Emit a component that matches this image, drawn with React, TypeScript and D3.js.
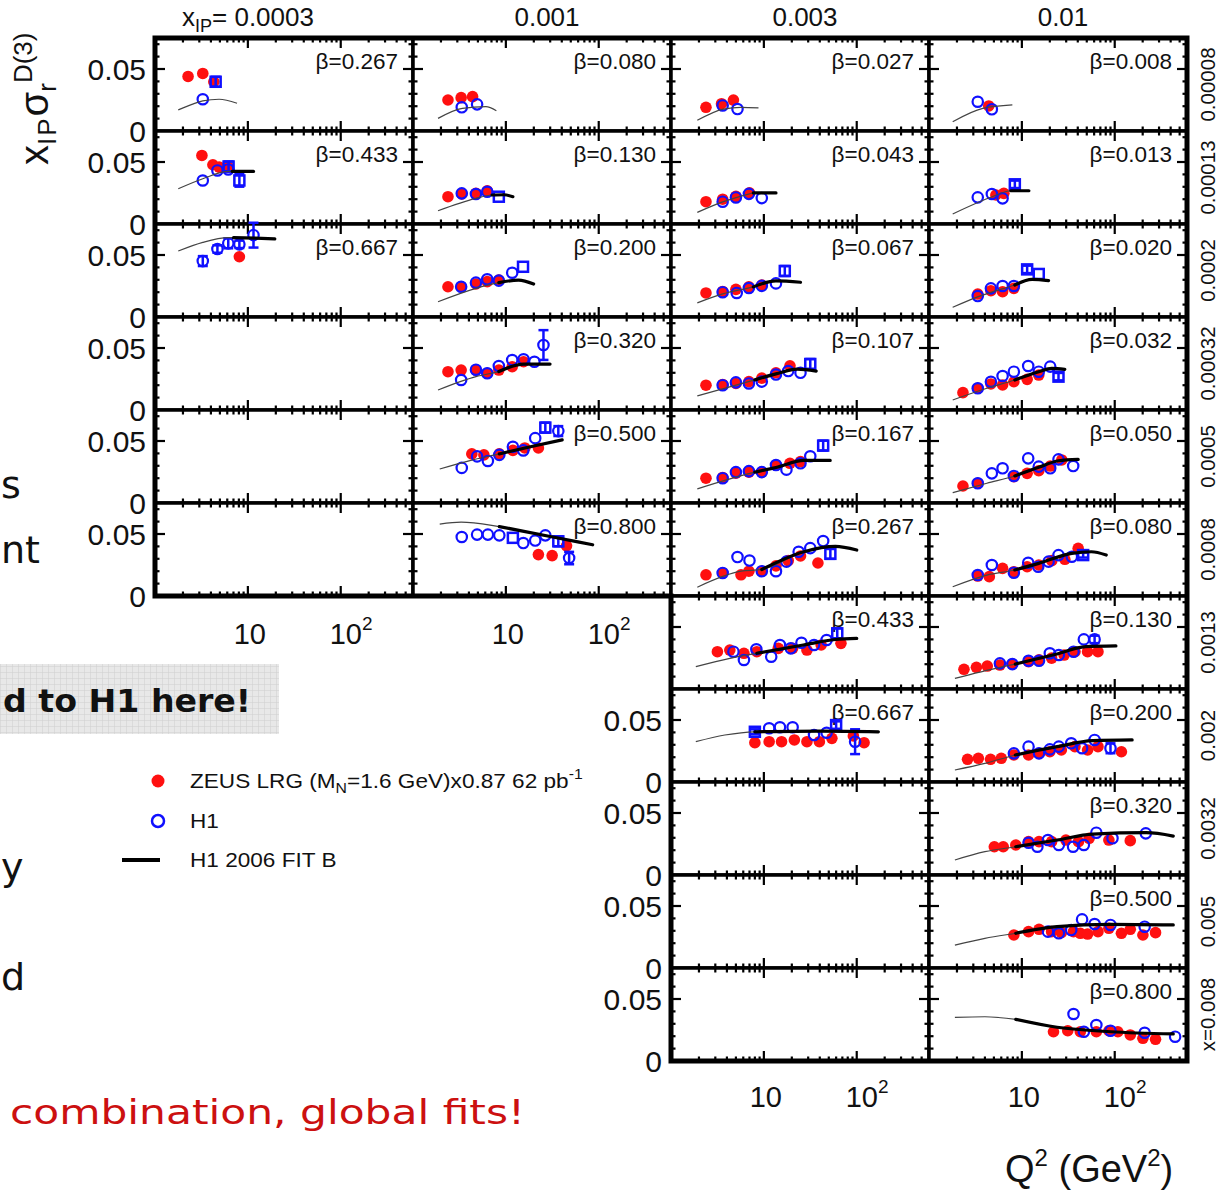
import React from 'react';
import * as d3 from 'd3';

type P = [number, number, number]; // Q2, value, error
type F = [number, number, number]; // Q2, value, thick flag

const ipLabels = ['0.0003', '0.001', '0.003', '0.01'];
const xLabels = ['0.00008', '0.00013', '0.0002', '0.00032', '0.0005', '0.0008', '0.0013', '0.002', '0.0032', '0.005', 'x=0.008'];
const betas1 = ['0.267', '0.433', '0.667'];
const betas2 = ['0.080', '0.130', '0.200', '0.320', '0.500', '0.800'];
const betas3 = ['0.027', '0.043', '0.067', '0.107', '0.167', '0.267', '0.433', '0.667'];
const betas4 = ['0.008', '0.013', '0.020', '0.032', '0.050', '0.080', '0.130', '0.200', '0.320', '0.500', '0.800'];
const rowsPerColumn = [6, 6, 11, 11];
const yLabelRowsCol3 = [7, 8, 9, 10];
const xMinorTicks = [2, 3, 4, 5, 6, 7, 8, 9, 20, 30, 40, 50, 60, 70, 80, 90, 200, 300, 400, 500, 600];
const xMajorTicks = [10, 100];
const yMinorTicks = [0.01, 0.02, 0.03, 0.04, 0.06, 0.07];
const yMajorTicks = [0.05];
const xTickLabels = [10, 100];

// ---------- column 1 : x_IP = 0.0003 ----------
const z_c1r1: P[] = [[2.27, 0.044, 0.004], [3.27, 0.0464, 0.004], [4.3, 0.0397, 0.003]];
const h_c1r1: P[] = [[3.27, 0.0256, 0]];
const s_c1r1: P[] = [[4.5, 0.0397, 0.004]];
const f_c1r1: F[] = [[1.78, 0.017, 0], [2.5, 0.0215, 0], [3.27, 0.0243, 0], [4.9, 0.0256, 0], [7.65, 0.0224, 0]];

const z_c1r2: P[] = [[3.2, 0.0553, 0.004], [4.2, 0.0478, 0.003], [4.9, 0.0459, 0], [6.15, 0.0459, 0.003]];
const h_c1r2: P[] = [[3.27, 0.0351, 0], [4.7, 0.0432, 0], [6.15, 0.044, 0]];
const s_c1r2: P[] = [[6.2, 0.0464, 0.004], [8.1, 0.0351, 0.005]];
const f_c1r2: F[] = [[1.78, 0.0284, 0], [3.27, 0.0365, 0], [6.2, 0.0424, 0], [6.8, 0.0424, 1], [11.5, 0.0424, 1]];

const z_c1r3: P[] = [[8.1, 0.0486, 0.003]];
const h_c1r3: P[] = [[3.27, 0.0451, 0.004], [4.7, 0.0548, 0.003], [6.15, 0.0594, 0.004], [8.1, 0.0586, 0.003], [11.5, 0.066, 0.01]];
const s_c1r3: P[] = [];
const f_c1r3: F[] = [[1.78, 0.0532, 0], [3.27, 0.0602, 0], [6.15, 0.064, 0], [7, 0.064, 1], [12, 0.0636, 1], [19.5, 0.063, 1]];

// ---------- column 2 : x_IP = 0.001 ----------
const z_c2r1: P[] = [[2.38, 0.025, 0], [3.3, 0.0269, 0], [4.38, 0.0277, 0]];
const h_c2r1: P[] = [[3.35, 0.0191, 0], [4.9, 0.0215, 0]];
const s_c2r1: P[] = [];
const f_c2r1: F[] = [[1.86, 0.0102, 0], [3.4, 0.0183, 0], [6.1, 0.0196, 0], [7.9, 0.0164, 0]];

const z_c2r2: P[] = [[2.38, 0.022, 0], [3.35, 0.0242, 0], [4.76, 0.0247, 0], [6.3, 0.0268, 0]];
const h_c2r2: P[] = [[3.35, 0.0247, 0], [4.76, 0.0242, 0], [6.3, 0.026, 0]];
const s_c2r2: P[] = [[8.4, 0.022, 0]];
const f_c2r2: F[] = [[1.86, 0.0107, 0], [4.76, 0.0207, 0], [7.1, 0.0234, 1], [9.5, 0.0236, 1], [11.9, 0.022, 1]];

const z_c2r3: P[] = [[2.38, 0.0244, 0], [3.3, 0.0244, 0], [4.76, 0.0266, 0], [6.3, 0.0285, 0], [8.4, 0.0298, 0]];
const h_c2r3: P[] = [[3.3, 0.0244, 0], [4.76, 0.0277, 0], [6.3, 0.0304, 0], [8.4, 0.0293, 0], [11.7, 0.0357, 0]];
const s_c2r3: P[] = [[15.3, 0.0405, 0]];
const f_c2r3: F[] = [[1.86, 0.0123, 0], [4.76, 0.0231, 0], [8.4, 0.0277, 1], [13.7, 0.0298, 1], [19.9, 0.0266, 1]];

const z_c2r4: P[] = [[2.38, 0.0309, 0], [3.3, 0.0322, 0], [4.76, 0.0322, 0], [6.3, 0.0296, 0], [8.4, 0.0322, 0], [11.7, 0.0349, 0], [15.5, 0.0389, 0]];
const h_c2r4: P[] = [[3.3, 0.0242, 0], [4.76, 0.0325, 0], [6.3, 0.0296, 0], [8.4, 0.0355, 0], [11.7, 0.0403, 0], [15.5, 0.0409, 0], [20.3, 0.0389, 0], [25.4, 0.0524, 0.012]];
const s_c2r4: P[] = [];
const f_c2r4: F[] = [[1.86, 0.0161, 0], [4.76, 0.0269, 0], [8.4, 0.031, 1], [15.5, 0.037, 1], [29.9, 0.037, 1]];

const z_c2r5: P[] = [[4.3, 0.0396, 0], [5.8, 0.0388, 0], [8.5, 0.0396, 0], [11.9, 0.0424, 0], [16, 0.0444, 0], [22.4, 0.0444, 0]];
const h_c2r5: P[] = [[3.35, 0.0283, 0], [4.9, 0.0376, 0], [6.4, 0.0339, 0], [8.5, 0.0388, 0], [11.9, 0.0453, 0], [15.4, 0.0424, 0], [20.7, 0.0523, 0], [36.7, 0.058, 0.004]];
const s_c2r5: P[] = [[26.6, 0.0608, 0.004]];
const f_c2r5: F[] = [[1.94, 0.0274, 0], [4, 0.034, 0], [8.5, 0.0396, 1], [20, 0.046, 1], [40.4, 0.0509, 1]];

const z_c2r6: P[] = [[22.4, 0.0334, 0], [31.5, 0.0326, 0], [45, 0.0405, 0]];
const h_c2r6: P[] = [[3.35, 0.0476, 0], [4.9, 0.0495, 0], [6.4, 0.0495, 0], [8.5, 0.0489, 0], [15.4, 0.0427, 0], [20.7, 0.0447, 0], [26.6, 0.0489, 0], [48, 0.0306, 0.005]];
const s_c2r6: P[] = [[11.9, 0.0469, 0], [36.7, 0.0441, 0.004]];
const f_c2r6: F[] = [[1.94, 0.058, 0], [3.3, 0.0596, 0], [8.5, 0.056, 1], [30, 0.048, 1], [86, 0.0413, 1]];

// ---------- column 3 : x_IP = 0.003 ----------
const z_c3r1: P[] = [[2.38, 0.0191, 0], [3.5, 0.022, 0], [4.7, 0.0249, 0]];
const h_c3r1: P[] = [[3.6, 0.0206, 0], [5.2, 0.0177, 0]];
const s_c3r1: P[] = [];
const f_c3r1: F[] = [[1.92, 0.0086, 0], [3.67, 0.0177, 0], [5.67, 0.0191, 0], [8.75, 0.0186, 0]];

const z_c3r2: P[] = [[2.38, 0.018, 0], [3.6, 0.02, 0], [5.0, 0.0223, 0], [7.0, 0.0251, 0]];
const h_c3r2: P[] = [[3.6, 0.018, 0], [5.0, 0.0214, 0], [6.9, 0.0243, 0], [9.5, 0.0209, 0]];
const s_c3r2: P[] = [];
const f_c3r2: F[] = [[1.92, 0.0094, 0], [3.67, 0.018, 0], [7.0, 0.0243, 0], [7.7, 0.0251, 1], [13.5, 0.0251, 1]];

const z_c3r3: P[] = [[2.38, 0.0194, 0], [3.6, 0.0206, 0], [5.0, 0.0223, 0], [6.9, 0.0243, 0], [9.5, 0.0257, 0]];
const h_c3r3: P[] = [[3.6, 0.02, 0], [5.1, 0.0194, 0], [6.9, 0.0234, 0], [9.5, 0.0251, 0], [13.5, 0.0271, 0]];
const s_c3r3: P[] = [[16.8, 0.0371, 0.004]];
const f_c3r3: F[] = [[1.92, 0.0114, 0], [3.6, 0.0186, 0], [7.7, 0.0243, 1], [13.5, 0.0291, 1], [24.8, 0.028, 1]];

const z_c3r4: P[] = [[2.38, 0.02, 0], [3.6, 0.0206, 0], [5.0, 0.0214, 0], [6.9, 0.0229, 0], [9.5, 0.0257, 0], [13.5, 0.03, 0], [19.1, 0.0357, 0]];
const h_c3r4: P[] = [[3.6, 0.02, 0], [5.0, 0.0223, 0], [6.9, 0.0214, 0], [9.5, 0.0229, 0], [13.5, 0.0286, 0], [18.3, 0.0314, 0], [24.8, 0.03, 0]];
const s_c3r4: P[] = [[31.6, 0.0371, 0.004]];
const f_c3r4: F[] = [[1.92, 0.0114, 0], [5.0, 0.02, 0], [8.0, 0.0243, 1], [13.5, 0.0291, 1], [22.7, 0.0329, 1], [36.6, 0.0314, 1]];

const z_c3r5: P[] = [[2.38, 0.02, 0], [3.6, 0.0206, 0], [5.0, 0.024, 0], [6.9, 0.0249, 0], [9.5, 0.0249, 0], [13.5, 0.0306, 0], [19.1, 0.032, 0], [24.8, 0.0334, 0]];
const h_c3r5: P[] = [[3.6, 0.02, 0], [5.0, 0.0249, 0], [6.9, 0.0257, 0], [9.5, 0.0249, 0], [13.5, 0.0306, 0], [17.5, 0.0269, 0], [24.8, 0.032, 0], [31.6, 0.0377, 0]];
const s_c3r5: P[] = [[43.5, 0.0463, 0.004]];
const f_c3r5: F[] = [[1.92, 0.0114, 0], [8.0, 0.0249, 1], [13.5, 0.0286, 1], [27, 0.0343, 1], [51.8, 0.0343, 1]];

const z_c3r6: P[] = [[2.38, 0.0171, 0], [3.6, 0.0186, 0], [5.67, 0.0171, 0], [6.9, 0.02, 0], [9.5, 0.02, 0], [13.5, 0.0243, 0], [18.3, 0.0286, 0], [24.8, 0.0323, 0], [38.2, 0.0266, 0]];
const h_c3r6: P[] = [[3.6, 0.0186, 0], [5.2, 0.0314, 0], [7.0, 0.0286, 0], [9.5, 0.02, 0], [13.5, 0.02, 0], [17.5, 0.0277, 0], [23.7, 0.0357, 0], [31.6, 0.0386, 0], [43.5, 0.0443, 0]];
const s_c3r6: P[] = [[52, 0.034, 0.004]];
const f_c3r6: F[] = [[1.92, 0.0071, 0], [5.67, 0.02, 0], [9.5, 0.0214, 1], [27, 0.0357, 1], [58.9, 0.04, 1], [100, 0.0371, 1]];

const z_c3r7: P[] = [[3.16, 0.0301, 0], [4.3, 0.0314, 0], [6.1, 0.0288, 0], [8.4, 0.0301, 0], [14.3, 0.0328, 0], [20.4, 0.0328, 0], [29.1, 0.0314, 0], [41.4, 0.0355, 0], [67.6, 0.0368, 0]];
const h_c3r7: P[] = [[4.7, 0.0301, 0], [6.1, 0.0234, 0], [8.3, 0.032, 0], [12, 0.026, 0], [14.9, 0.0355, 0], [19.5, 0.0328, 0], [25.4, 0.0373, 0], [34.7, 0.0355, 0], [47.4, 0.0395, 0]];
const s_c3r7: P[] = [[61.7, 0.0449, 0.004]];
const f_c3r7: F[] = [[1.85, 0.018, 0], [4.3, 0.0247, 0], [8.4, 0.0288, 1], [26.6, 0.0355, 1], [59, 0.0399, 1], [100, 0.0408, 1]];

const z_c3r8: P[] = [[8.0, 0.0317, 0], [11.4, 0.0325, 0], [15.5, 0.0325, 0], [21.3, 0.0339, 0], [29.1, 0.0325, 0], [39.6, 0.0325, 0], [54, 0.0352, 0], [92, 0.0371, 0], [120, 0.0317, 0]];
const h_c3r8: P[] = [[11.4, 0.0433, 0], [14.9, 0.0441, 0], [20.4, 0.0441, 0], [34.7, 0.0379, 0], [47.4, 0.0397, 0], [96, 0.0325, 0.01]];
const s_c3r8: P[] = [[8.0, 0.0405, 0.002], [60, 0.0459, 0.003]];
const f_c3r8: F[] = [[1.85, 0.0325, 0], [3.8, 0.0379, 0], [8.0, 0.0405, 1], [40, 0.041, 1], [171, 0.0405, 1]];

// ---------- column 4 : x_IP = 0.01 ----------
const z_c4r1: P[] = [[4.4, 0.0202, 0]];
const h_c4r1: P[] = [[3.35, 0.0236, 0], [4.75, 0.0175, 0]];
const s_c4r1: P[] = [];
const f_c4r1: F[] = [[1.8, 0.0075, 0], [3.8, 0.0183, 0], [7.9, 0.021, 0]];

const z_c4r2: P[] = [[5.25, 0.0234, 0], [6.4, 0.0247, 0]];
const h_c4r2: P[] = [[3.35, 0.0215, 0], [4.75, 0.0242, 0], [6.2, 0.0207, 0]];
const s_c4r2: P[] = [[8.4, 0.032, 0.003]];
const f_c4r2: F[] = [[1.8, 0.0081, 0], [4.8, 0.022, 0], [7.6, 0.0268, 1], [11.9, 0.0268, 1]];

const z_c4r3: P[] = [[3.35, 0.0185, 0], [4.64, 0.0212, 0], [6.2, 0.0204, 0], [8.2, 0.0231, 0]];
const h_c4r3: P[] = [[3.35, 0.0169, 0], [4.64, 0.0231, 0], [6.2, 0.025, 0], [8.2, 0.025, 0]];
const s_c4r3: P[] = [[11.4, 0.0384, 0.003], [15.2, 0.0347, 0]];
const f_c4r3: F[] = [[1.8, 0.0078, 0], [3.4, 0.0164, 0], [8.4, 0.0258, 1], [12.9, 0.0304, 1], [19.4, 0.0293, 1]];

const z_c4r4: P[] = [[2.32, 0.014, 0], [3.35, 0.0175, 0], [4.64, 0.021, 0], [6.2, 0.0202, 0], [8.2, 0.0228, 0], [11.4, 0.0247, 0], [15.2, 0.0282, 0]];
const h_c4r4: P[] = [[3.35, 0.0175, 0], [4.64, 0.0228, 0], [6.2, 0.0274, 0], [8.2, 0.0309, 0], [11.7, 0.0355, 0], [15.2, 0.0309, 0], [20.2, 0.035, 0]];
const s_c4r4: P[] = [[24.8, 0.0269, 0.003]];
const f_c4r4: F[] = [[1.8, 0.0081, 0], [4.2, 0.0175, 0], [8.4, 0.0242, 1], [15.2, 0.0309, 1], [21, 0.0336, 1], [29, 0.0328, 1]];

const z_c4r5: P[] = [[2.32, 0.0137, 0], [3.35, 0.0159, 0], [8.2, 0.0212, 0], [11.4, 0.0239, 0], [15.2, 0.026, 0], [20.2, 0.0298, 0], [26.9, 0.0347, 0]];
const h_c4r5: P[] = [[3.35, 0.0159, 0], [4.75, 0.0239, 0], [6.2, 0.028, 0], [8.2, 0.0218, 0], [11.7, 0.036, 0], [15.2, 0.0293, 0], [20.2, 0.028, 0], [24.8, 0.0352, 0], [35.7, 0.0298, 0]];
const s_c4r5: P[] = [];
const f_c4r5: F[] = [[1.8, 0.0083, 0], [4.2, 0.0159, 0], [8.4, 0.0218, 1], [15.2, 0.0288, 1], [24.8, 0.0341, 1], [40.4, 0.0352, 1]];

const z_c4r6: P[] = [[3.35, 0.0161, 0], [4.46, 0.0156, 0], [6.2, 0.0223, 0], [8.2, 0.0196, 0], [11.4, 0.0236, 0], [15.2, 0.025, 0], [21, 0.0285, 0], [29, 0.0296, 0], [40.4, 0.0384, 0]];
const h_c4r6: P[] = [[3.35, 0.0169, 0], [4.75, 0.025, 0], [8.2, 0.0188, 0], [11.7, 0.0268, 0], [15, 0.0236, 0], [19.4, 0.0277, 0], [24.8, 0.033, 0], [34.5, 0.0317, 0]];
const s_c4r6: P[] = [[45.7, 0.033, 0.002]];
const f_c4r6: F[] = [[1.8, 0.0075, 0], [4.2, 0.0169, 0], [8.4, 0.021, 1], [15.2, 0.0263, 1], [34.5, 0.0344, 1], [56, 0.0357, 1], [81, 0.033, 1]];

const z_c4r7: P[] = [[2.38, 0.0159, 0], [3.24, 0.0175, 0], [4.24, 0.0185, 0], [5.8, 0.0193, 0], [7.9, 0.0201, 0], [11.8, 0.022, 0], [15.3, 0.0236, 0], [20.9, 0.0249, 0], [28.5, 0.0274, 0], [37.3, 0.0301, 0], [51, 0.0301, 0], [66, 0.0301, 0]];
const h_c4r7: P[] = [[5.8, 0.0207, 0], [7.9, 0.0201, 0], [11.8, 0.0228, 0], [15.3, 0.0228, 0], [20, 0.0288, 0], [25, 0.0274, 0], [36, 0.0301, 0], [46.5, 0.04, 0], [60.7, 0.04, 0.003]];
const s_c4r7: P[] = [];
const f_c4r7: F[] = [[1.9, 0.0086, 0], [5.8, 0.0175, 0], [8.5, 0.0201, 1], [23.9, 0.0282, 1], [48.5, 0.0341, 1], [103, 0.0347, 1]];

const z_c4r8: P[] = [[2.6, 0.0183, 0], [3.4, 0.0191, 0], [4.6, 0.0183, 0], [6.0, 0.0191, 0], [8.2, 0.0218, 0], [11.8, 0.0218, 0], [15.3, 0.0231, 0], [20, 0.0244, 0], [26.6, 0.0258, 0], [37.3, 0.0285, 0], [51, 0.0258, 0], [66, 0.0285, 0], [118, 0.0244, 0]];
const h_c4r8: P[] = [[8.2, 0.0231, 0], [11.8, 0.0285, 0], [15.3, 0.0231, 0], [20, 0.0263, 0], [25, 0.0285, 0], [34, 0.0312, 0], [44.5, 0.0272, 0], [60.7, 0.0339, 0], [90, 0.0272, 0.004]];
const s_c4r8: P[] = [];
const f_c4r8: F[] = [[1.9, 0.0097, 0], [4.0, 0.015, 0], [8.5, 0.0218, 1], [23.9, 0.0285, 1], [58, 0.0333, 1], [154, 0.0339, 1]];

const z_c4r9: P[] = [[5.05, 0.0228, 0], [6.3, 0.0228, 0], [8.6, 0.0242, 0], [11.8, 0.0269, 0], [15.3, 0.0269, 0], [20.9, 0.0269, 0], [29.8, 0.0282, 0], [40.7, 0.0269, 0], [53, 0.0296, 0], [86.5, 0.0282, 0], [147, 0.0277, 0]];
const h_c4r9: P[] = [[11.8, 0.026, 0], [14.7, 0.0228, 0], [19.1, 0.0282, 0], [25, 0.0242, 0], [35.6, 0.0228, 0], [46.5, 0.0242, 0], [63.4, 0.0341, 0], [94.6, 0.0296, 0], [216, 0.0336, 0]];
const s_c4r9: P[] = [];
const f_c4r9: F[] = [[1.9, 0.0121, 0], [4.0, 0.0188, 0], [8.6, 0.0228, 1], [23.9, 0.0282, 1], [58, 0.033, 1], [219, 0.0341, 1], [427, 0.0314, 1]];

const z_c4r10: P[] = [[8.2, 0.0266, 0], [11.8, 0.0293, 0], [15.3, 0.0312, 0], [20.9, 0.0293, 0], [26.6, 0.0285, 0], [36, 0.0293, 0], [42.6, 0.028, 0], [51, 0.0274, 0], [66, 0.0293, 0], [86.5, 0.032, 0], [118, 0.028, 0], [147, 0.0312, 0], [201, 0.0266, 0], [275, 0.0285, 0]];
const h_c4r10: P[] = [[19.1, 0.0293, 0], [25, 0.028, 0], [34, 0.0306, 0], [44.5, 0.0392, 0], [60.7, 0.0355, 0], [90, 0.0347, 0], [210, 0.0333, 0]];
const s_c4r10: P[] = [];
const f_c4r10: F[] = [[1.9, 0.0185, 0], [4.0, 0.0239, 0], [8.6, 0.028, 1], [23.9, 0.0333, 1], [90, 0.0352, 1], [427, 0.0347, 1]];

const z_c4r11: P[] = [[21.9, 0.0236, 0], [31.2, 0.0244, 0], [42.6, 0.0236, 0], [63.4, 0.0236, 0], [86.5, 0.0244, 0], [108, 0.0236, 0], [147, 0.021, 0], [201, 0.0183, 0], [275, 0.0175, 0]];
const h_c4r11: P[] = [[36, 0.0379, 0], [46.5, 0.0236, 0], [63.4, 0.029, 0], [90, 0.0244, 0], [210, 0.0228, 0], [447, 0.0196, 0]];
const s_c4r11: P[] = [];
const f_c4r11: F[] = [[1.9, 0.0352, 0], [4.0, 0.0357, 0], [8.6, 0.0336, 1], [23.9, 0.0272, 1], [90, 0.0236, 1], [427, 0.0218, 1]];

// table of panels (column, row) -> series
type PanelSeries = { beta: string; zeus: P[]; h1: P[]; h1sq: P[]; fit: F[] } | null;
const col1: PanelSeries[] = [
  { beta: betas1[0], zeus: z_c1r1, h1: h_c1r1, h1sq: s_c1r1, fit: f_c1r1 },
  { beta: betas1[1], zeus: z_c1r2, h1: h_c1r2, h1sq: s_c1r2, fit: f_c1r2 },
  { beta: betas1[2], zeus: z_c1r3, h1: h_c1r3, h1sq: s_c1r3, fit: f_c1r3 },
  null, null, null,
];
const col2: PanelSeries[] = [
  { beta: betas2[0], zeus: z_c2r1, h1: h_c2r1, h1sq: s_c2r1, fit: f_c2r1 },
  { beta: betas2[1], zeus: z_c2r2, h1: h_c2r2, h1sq: s_c2r2, fit: f_c2r2 },
  { beta: betas2[2], zeus: z_c2r3, h1: h_c2r3, h1sq: s_c2r3, fit: f_c2r3 },
  { beta: betas2[3], zeus: z_c2r4, h1: h_c2r4, h1sq: s_c2r4, fit: f_c2r4 },
  { beta: betas2[4], zeus: z_c2r5, h1: h_c2r5, h1sq: s_c2r5, fit: f_c2r5 },
  { beta: betas2[5], zeus: z_c2r6, h1: h_c2r6, h1sq: s_c2r6, fit: f_c2r6 },
];
const col3: PanelSeries[] = [
  { beta: betas3[0], zeus: z_c3r1, h1: h_c3r1, h1sq: s_c3r1, fit: f_c3r1 },
  { beta: betas3[1], zeus: z_c3r2, h1: h_c3r2, h1sq: s_c3r2, fit: f_c3r2 },
  { beta: betas3[2], zeus: z_c3r3, h1: h_c3r3, h1sq: s_c3r3, fit: f_c3r3 },
  { beta: betas3[3], zeus: z_c3r4, h1: h_c3r4, h1sq: s_c3r4, fit: f_c3r4 },
  { beta: betas3[4], zeus: z_c3r5, h1: h_c3r5, h1sq: s_c3r5, fit: f_c3r5 },
  { beta: betas3[5], zeus: z_c3r6, h1: h_c3r6, h1sq: s_c3r6, fit: f_c3r6 },
  { beta: betas3[6], zeus: z_c3r7, h1: h_c3r7, h1sq: s_c3r7, fit: f_c3r7 },
  { beta: betas3[7], zeus: z_c3r8, h1: h_c3r8, h1sq: s_c3r8, fit: f_c3r8 },
  null, null, null,
];
const col4: PanelSeries[] = [
  { beta: betas4[0], zeus: z_c4r1, h1: h_c4r1, h1sq: s_c4r1, fit: f_c4r1 },
  { beta: betas4[1], zeus: z_c4r2, h1: h_c4r2, h1sq: s_c4r2, fit: f_c4r2 },
  { beta: betas4[2], zeus: z_c4r3, h1: h_c4r3, h1sq: s_c4r3, fit: f_c4r3 },
  { beta: betas4[3], zeus: z_c4r4, h1: h_c4r4, h1sq: s_c4r4, fit: f_c4r4 },
  { beta: betas4[4], zeus: z_c4r5, h1: h_c4r5, h1sq: s_c4r5, fit: f_c4r5 },
  { beta: betas4[5], zeus: z_c4r6, h1: h_c4r6, h1sq: s_c4r6, fit: f_c4r6 },
  { beta: betas4[6], zeus: z_c4r7, h1: h_c4r7, h1sq: s_c4r7, fit: f_c4r7 },
  { beta: betas4[7], zeus: z_c4r8, h1: h_c4r8, h1sq: s_c4r8, fit: f_c4r8 },
  { beta: betas4[8], zeus: z_c4r9, h1: h_c4r9, h1sq: s_c4r9, fit: f_c4r9 },
  { beta: betas4[9], zeus: z_c4r10, h1: h_c4r10, h1sq: s_c4r10, fit: f_c4r10 },
  { beta: betas4[10], zeus: z_c4r11, h1: h_c4r11, h1sq: s_c4r11, fit: f_c4r11 },
];
const columns = [col1, col2, col3, col4];

// ---------- layout ----------
const W = 1228;
const H = 1192;
const COL_LEFT = [155, 413, 671, 929];
const PW = 258;
const TOP = 38;
const RH = 93;
const FONT = 'Liberation Sans, Arial, Helvetica, sans-serif';
const RED = '#ff1010';
const BLUE = '#1010ff';

const xScaleFor = (c: number) => d3.scaleLog().domain([1, 600]).range([COL_LEFT[c], COL_LEFT[c] + PW]);
const yScaleFor = (r: number) => d3.scaleLinear().domain([0, 0.075]).range([TOP + RH * (r + 1), TOP + RH * r]);

function ErrBar({ px, y, v, e, cap }: { px: number; y: (n: number) => number; v: number; e: number; cap: boolean }) {
  return (
    <g>
      <line x1={px} x2={px} y1={y(v - e)} y2={y(v + e)} />
      {cap && <line x1={px - 5} x2={px + 5} y1={y(v - e)} y2={y(v - e)} />}
      {cap && <line x1={px - 5} x2={px + 5} y1={y(v + e)} y2={y(v + e)} />}
    </g>
  );
}

function Panel({ c, r, data }: { c: number; r: number; data: PanelSeries }) {
  const x = xScaleFor(c);
  const y = yScaleFor(r);
  const L = COL_LEFT[c];
  const R = L + PW;
  const T = TOP + RH * r;
  const B = T + RH;
  const line = d3
    .line<F>()
    .x((d) => x(d[0]))
    .y((d) => y(d[1]))
    .curve(d3.curveMonotoneX);
  const ticks: JSX.Element[] = [];
  xMinorTicks.forEach((t, i) => {
    const px = x(t);
    ticks.push(<line key={'xb' + i} x1={px} x2={px} y1={B} y2={B - 4.5} />);
    ticks.push(<line key={'xt' + i} x1={px} x2={px} y1={T} y2={T + 4.5} />);
  });
  xMajorTicks.forEach((t, i) => {
    const px = x(t);
    ticks.push(<line key={'Xb' + i} x1={px} x2={px} y1={B} y2={B - 10} />);
    ticks.push(<line key={'Xt' + i} x1={px} x2={px} y1={T} y2={T + 10} />);
  });
  yMinorTicks.forEach((t, i) => {
    const py = y(t);
    ticks.push(<line key={'yl' + i} x1={L} x2={L + 4.5} y1={py} y2={py} />);
    ticks.push(<line key={'yr' + i} x1={R} x2={R - 4.5} y1={py} y2={py} />);
  });
  yMajorTicks.forEach((t, i) => {
    const py = y(t);
    ticks.push(<line key={'Yl' + i} x1={L} x2={L + 10} y1={py} y2={py} />);
    ticks.push(<line key={'Yr' + i} x1={R} x2={R - 10} y1={py} y2={py} />);
  });

  return (
    <g>
      <rect x={L} y={T} width={PW} height={RH} fill="white" stroke="black" strokeWidth={3.5} />
      <g stroke="black" strokeWidth={2.2}>{ticks}</g>
      {data && (
        <g>
          <text x={R - 15} y={T + 31} fontSize={22.5} fontFamily={FONT} textAnchor="end" fill="#111">
            β={data.beta}
          </text>
          {data.zeus.map((d, i) => (
            <g key={'z' + i}>
              {d[2] > 0 && (
                <g stroke={RED} strokeWidth={3.5}>
                  <ErrBar px={x(d[0])} y={y} v={d[1]} e={d[2]} cap={false} />
                </g>
              )}
              <circle cx={x(d[0])} cy={y(d[1])} r={5.8} fill={RED} />
            </g>
          ))}
          {data.h1.map((d, i) => (
            <g key={'h' + i}>
              {d[2] > 0 && (
                <g stroke={BLUE} strokeWidth={2.5}>
                  <ErrBar px={x(d[0])} y={y} v={d[1]} e={d[2]} cap={true} />
                </g>
              )}
              <circle cx={x(d[0])} cy={y(d[1])} r={5.2} fill="none" stroke={BLUE} strokeWidth={2.2} />
            </g>
          ))}
          {data.h1sq.map((d, i) => (
            <g key={'s' + i} stroke={BLUE} strokeWidth={2.5} fill="none">
              {d[2] > 0 && <ErrBar px={x(d[0])} y={y} v={d[1]} e={d[2]} cap={true} />}
              <rect x={x(d[0]) - 5} y={y(d[1]) - 5} width={10} height={10} />
            </g>
          ))}
          <path d={line(data.fit) || ''} fill="none" stroke="#444" strokeWidth={1.2} />
          <path
            d={line(data.fit.filter((d) => d[2] === 1)) || ''}
            fill="none"
            stroke="black"
            strokeWidth={3.2}
            strokeLinecap="round"
          />
        </g>
      )}
    </g>
  );
}

function YLabels({ xRight, r }: { xRight: number; r: number }) {
  const y = yScaleFor(r);
  return (
    <g fontFamily={FONT} fontSize={30} textAnchor="end" fill="#111">
      {[0, 0.05].map((v) => (
        <text key={v} x={xRight} y={y(v) + 10.5}>
          {v === 0 ? '0' : '0.05'}
        </text>
      ))}
    </g>
  );
}

function XLabels({ c, yBase }: { c: number; yBase: number }) {
  const x = xScaleFor(c);
  return (
    <g fontFamily={FONT} fontSize={29} fill="#111">
      {xTickLabels.map((v) =>
        v === 10 ? (
          <text key={v} x={x(v) + 2} y={yBase} textAnchor="middle">
            10
          </text>
        ) : (
          <text key={v} x={x(v) - 11} y={yBase}>
            10
            <tspan fontSize={19} dy={-14}>
              2
            </tspan>
          </text>
        )
      )}
    </g>
  );
}

export default function App() {
  const panels: JSX.Element[] = [];
  columns.forEach((col, c) => {
    for (let r = 0; r < rowsPerColumn[c]; r++) {
      panels.push(<Panel key={c + '-' + r} c={c} r={r} data={col[r]} />);
    }
  });
  const bottom12 = TOP + RH * 6;
  const bottom34 = TOP + RH * 11;
  const R4 = COL_LEFT[3] + PW;
  const outer = `M${COL_LEFT[0]},${TOP} L${R4},${TOP} L${R4},${bottom34} L${COL_LEFT[2]},${bottom34} L${COL_LEFT[2]},${bottom12} L${COL_LEFT[0]},${bottom12} Z`;

  return (
    <div style={{ position: 'absolute', left: 0, top: 0 }}>
      <svg width={W} height={H} xmlns="http://www.w3.org/2000/svg" style={{ display: 'block', background: 'white' }}>
        <defs>
          <pattern id="grid" width="6" height="6" patternUnits="userSpaceOnUse">
            <rect width="6" height="6" fill="#e8e8e8" />
            <path d="M6,0 L0,0 L0,6" fill="none" stroke="#cfcfcf" strokeWidth={1} />
          </pattern>
        </defs>

        {/* background slide fragments */}
        <g fontFamily="DejaVu Sans, sans-serif" fontSize={38} fill="#111">
          <text x={1} y={498}>s</text>
          <text x={1} y={563}>nt</text>
          <text x={1} y={880}>y</text>
          <text x={1} y={990}>d</text>
        </g>
        <rect x={0} y={664} width={279} height={70} fill="url(#grid)" />
        <text x={3} y={712} fontFamily="DejaVu Sans, sans-serif" fontWeight="bold" fontSize={32} fill="#111" textLength={248} lengthAdjust="spacingAndGlyphs">
          d to H1 here!
        </text>
        <text x={10} y={1124} fontFamily="DejaVu Sans, sans-serif" fontSize={34} fill="#cc1010" textLength={515} lengthAdjust="spacingAndGlyphs">
          combination, global fits!
        </text>

        {/* panels */}
        {panels}
        <path d={outer} fill="none" stroke="black" strokeWidth={5} />

        {/* column headers */}
        <g fontFamily={FONT} fontSize={26} fill="#111">
          <text x={182} y={26}>
            x<tspan fontSize={18} dy={6}>IP</tspan>
            <tspan dy={-6}>= {ipLabels[0]}</tspan>
          </text>
          {ipLabels.slice(1).map((l, i) => (
            <text key={l} x={COL_LEFT[i + 1] + PW / 2 + 5} y={26} textAnchor="middle">
              {l}
            </text>
          ))}
        </g>

        {/* y tick labels */}
        {[0, 1, 2, 3, 4, 5].map((r) => (
          <YLabels key={'yl' + r} xRight={146} r={r} />
        ))}
        {yLabelRowsCol3.map((r) => (
          <YLabels key={'yl3' + r} xRight={662} r={r} />
        ))}

        {/* x tick labels */}
        <XLabels c={0} yBase={644} />
        <XLabels c={1} yBase={644} />
        <XLabels c={2} yBase={1107} />
        <XLabels c={3} yBase={1107} />

        {/* right row labels */}
        <g fontFamily={FONT} fontSize={20.5} fill="#111">
          {xLabels.map((l, r) => {
            const ym = TOP + RH * r + RH / 2;
            return (
              <text key={l} x={1207} y={ym} textAnchor="middle" dominantBaseline="central" transform={`rotate(-90,1207,${ym})`}>
                {l}
              </text>
            );
          })}
        </g>

        {/* y axis title */}
        <g transform="translate(48,165) rotate(-90)" fontFamily={FONT} fill="#111">
          <text x={0} y={0} fontSize={40}>
            x<tspan fontSize={26} dy={8} letterSpacing={2}>IP</tspan>
            <tspan fontSize={40} dy={-8}>σ</tspan>
            <tspan fontSize={26} dy={8}>r</tspan>
            <tspan fontSize={26} dy={-24}>D(3)</tspan>
          </text>
        </g>

        {/* x axis title */}
        <text x={1005} y={1182} fontFamily={FONT} fontSize={38} fill="#111">
          Q<tspan fontSize={24} dy={-16}>2</tspan>
          <tspan dy={16}> (GeV</tspan>
          <tspan fontSize={24} dy={-16}>2</tspan>
          <tspan dy={16}>)</tspan>
        </text>

        {/* legend */}
        <g fontFamily={FONT} fill="#111">
          <circle cx={158} cy={781} r={6.5} fill={RED} />
          <g transform="translate(190,788) scale(1.13,1)">
            <text x={0} y={0} fontSize={20}>
              ZEUS LRG (M<tspan fontSize={14} dy={5}>N</tspan>
              <tspan dy={-5}>=1.6 GeV)x0.87  62 pb</tspan>
              <tspan fontSize={14} dy={-9}>-1</tspan>
            </text>
          </g>
          <circle cx={158} cy={821} r={6} fill="none" stroke={BLUE} strokeWidth={2.5} />
          <g transform="translate(190,828) scale(1.13,1)">
            <text x={0} y={0} fontSize={20}>H1</text>
          </g>
          <line x1={122} x2={160} y1={860} y2={860} stroke="black" strokeWidth={4} />
          <g transform="translate(190,867) scale(1.13,1)">
            <text x={0} y={0} fontSize={20}>H1 2006 FIT B</text>
          </g>
        </g>
      </svg>
    </div>
  );
}
